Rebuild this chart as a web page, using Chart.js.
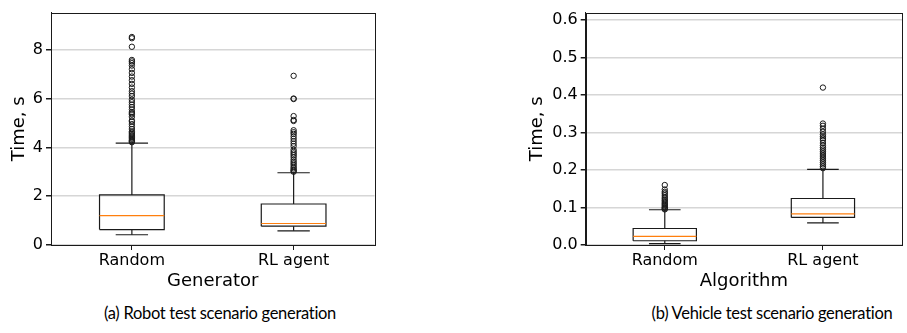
<!DOCTYPE html>
<html>
<head>
<meta charset="utf-8">
<script src="https://cdn.jsdelivr.net/npm/chart.js@4/dist/chart.umd.min.js"></script>
<style>
  body { margin: 0; background: #fff; width: 907px; height: 333px; position: relative; overflow: hidden; }
  .panel { position: absolute; top: 0; }
  .caption { position: absolute; top: 303px; font-family: 'Lato', sans-serif; font-size: 16.5px; letter-spacing: -0.3px; color: #000; text-align: center; }
</style>
</head>
<body>
<div class="panel" style="left:0px"><canvas id="robotChart" width="380" height="300"></canvas></div>
<div class="panel" style="left:515px"><canvas id="vehicleChart" width="392" height="300"></canvas></div>
<div class="caption" style="left:60px;width:320px">(a) Robot test scenario generation</div>
<div class="caption" style="left:612px;width:320px">(b) Vehicle test scenario generation</div>

<script>
const categories = ['Random', 'RL agent'];

// robot panel (a), one value per category
const robotLow = [0.42, 0.58];
const robotQ1 = [0.63, 0.77];
const robotMedian = [1.2, 0.88];
const robotQ3 = [2.05, 1.68];
const robotHigh = [4.17, 2.96];
const robotOutliersRandom = [8.52, 8.47, 8.12, 7.58, 7.52, 7.45, 7.35, 7.2, 7.05, 6.9, 6.75, 6.6,
  6.45, 6.3, 6.2, 6.1, 5.95, 5.85, 5.75, 5.65, 5.55, 5.45, 5.4, 5.35, 5.25, 5.1, 5.05, 4.95,
  4.85, 4.75, 4.65, 4.6, 4.55, 4.5, 4.45, 4.4, 4.35, 4.3, 4.27, 4.24, 4.21];
const robotOutliersRL = [6.93, 6.0, 5.98, 5.28, 5.12, 5.08, 4.7, 4.62, 4.55, 4.45, 4.35, 4.25, 4.15,
  4.05, 3.9, 3.82, 3.75, 3.68, 3.6, 3.5, 3.42, 3.35, 3.28, 3.2, 3.14, 3.08, 3.04, 3.0];

// vehicle panel (b)
const vehicleLow = [0.0035, 0.059];
const vehicleQ1 = [0.0113, 0.0736];
const vehicleMedian = [0.023, 0.083];
const vehicleQ3 = [0.044, 0.124];
const vehicleHigh = [0.094, 0.202];
const vehicleOutliersRandom = [0.16, 0.148, 0.142, 0.138, 0.133, 0.128, 0.124, 0.12, 0.117, 0.113,
  0.11, 0.107, 0.104, 0.101, 0.099, 0.097, 0.095];
const vehicleOutliersRL = [0.42, 0.324, 0.318, 0.31, 0.302, 0.295, 0.29, 0.285, 0.28, 0.272, 0.265,
  0.26, 0.255, 0.25, 0.245, 0.24, 0.235, 0.23, 0.225, 0.22, 0.215, 0.21, 0.205];

const robotTicks = [0, 2, 4, 6, 8];
const vehicleTicks = [0, 0.1, 0.2, 0.3, 0.4, 0.5, 0.6];

const BOX_W = 0.4;
const EDGE = '#1a1a1a';
const MEDIAN = '#ff7f0e';

Chart.defaults.font.family = "'DejaVu Sans', sans-serif";
Chart.defaults.color = '#000';

function seg(points, color) {
  return {
    type: 'scatter', data: points, showLine: true, borderColor: color,
    borderWidth: 1.2, pointRadius: 0, fill: false, tension: 0
  };
}

function boxDatasets(lo, q1, med, q3, hi, outliers) {
  const top = [], bottom = [];
  categories.forEach((c, i) => {
    const p = i + 1, h = BOX_W / 2, cap = BOX_W / 4;
    top.push(seg([{x: p - h, y: med[i]}, {x: p + h, y: med[i]}], MEDIAN));
    top.push({
      type: 'scatter', data: outliers[i].map(v => ({x: p, y: v})),
      pointRadius: 2.7, pointBorderWidth: 1, pointBackgroundColor: 'rgba(0,0,0,0)',
      pointBorderColor: EDGE, showLine: false
    });
    bottom.push(seg([{x: p - h, y: q1[i]}, {x: p + h, y: q1[i]}, {x: p + h, y: q3[i]},
      {x: p - h, y: q3[i]}, {x: p - h, y: q1[i]}], EDGE));
    bottom.push(seg([{x: p, y: q1[i]}, {x: p, y: lo[i]}], EDGE));
    bottom.push(seg([{x: p, y: q3[i]}, {x: p, y: hi[i]}], EDGE));
    bottom.push(seg([{x: p - cap, y: lo[i]}, {x: p + cap, y: lo[i]}], EDGE));
    bottom.push(seg([{x: p - cap, y: hi[i]}, {x: p + cap, y: hi[i]}], EDGE));
  });
  return top.concat(bottom);
}

const frame = {
  id: 'frame',
  afterDraw(chart) {
    const {ctx, chartArea: a} = chart;
    ctx.save();
    ctx.strokeStyle = EDGE;
    ctx.lineWidth = 1;
    ctx.strokeRect(Math.round(a.left) + 0.5, Math.round(a.top) + 0.5,
      Math.round(a.right - a.left), Math.round(a.bottom - a.top));
    ctx.restore();
  }
};

function makeChart(id, datasets, yMax, yTicks, fmt, xTitle, yWidth, titlePad, pad) {
  return new Chart(document.getElementById(id), {
    data: {datasets: datasets},
    options: {
      responsive: false,
      animation: false,
      layout: {padding: pad},
      plugins: {legend: {display: false}, tooltip: {enabled: false}},
      scales: {
        x: {
          type: 'linear', min: 0.5, max: 2.5,
          afterFit(s) { s.height = 55; },
          afterBuildTicks(s) { s.ticks = categories.map((c, i) => ({value: i + 1})); },
          ticks: {callback: v => categories[v - 1], font: {size: 16}, padding: 1, color: '#000', maxRotation: 0},
          grid: {drawOnChartArea: false, tickLength: 5, tickColor: EDGE},
          border: {color: EDGE},
          title: {display: true, text: xTitle, font: {size: 18}, color: '#000', padding: {top: 0, bottom: 8}}
        },
        y: {
          min: 0, max: yMax,
          afterFit(s) { s.width = yWidth; },
          afterBuildTicks(s) { s.ticks = yTicks.map(v => ({value: v})); },
          ticks: {callback: fmt, font: {size: 16}, padding: 3, color: '#000'},
          grid: {color: '#d6d6d6', lineWidth: 1.5, tickLength: 5, tickColor: EDGE},
          border: {color: EDGE},
          title: {display: true, text: 'Time, s', font: {size: 18}, color: '#000', padding: {top: titlePad, bottom: 0}}
        }
      }
    },
    plugins: [frame]
  });
}

makeChart('robotChart',
  boxDatasets(robotLow, robotQ1, robotMedian, robotQ3, robotHigh, [robotOutliersRandom, robotOutliersRL]),
  9.52, robotTicks, v => String(v), 'Generator', 51, 8.5, {top: 9, right: 5.5, left: 0, bottom: 0});

makeChart('vehicleChart',
  boxDatasets(vehicleLow, vehicleQ1, vehicleMedian, vehicleQ3, vehicleHigh, [vehicleOutliersRandom, vehicleOutliersRL]),
  0.62, vehicleTicks, v => v.toFixed(1), 'Algorithm', 70.7, 11.7, {top: 9, right: 2.7, left: 0, bottom: 0});
</script>
</body>
</html>
